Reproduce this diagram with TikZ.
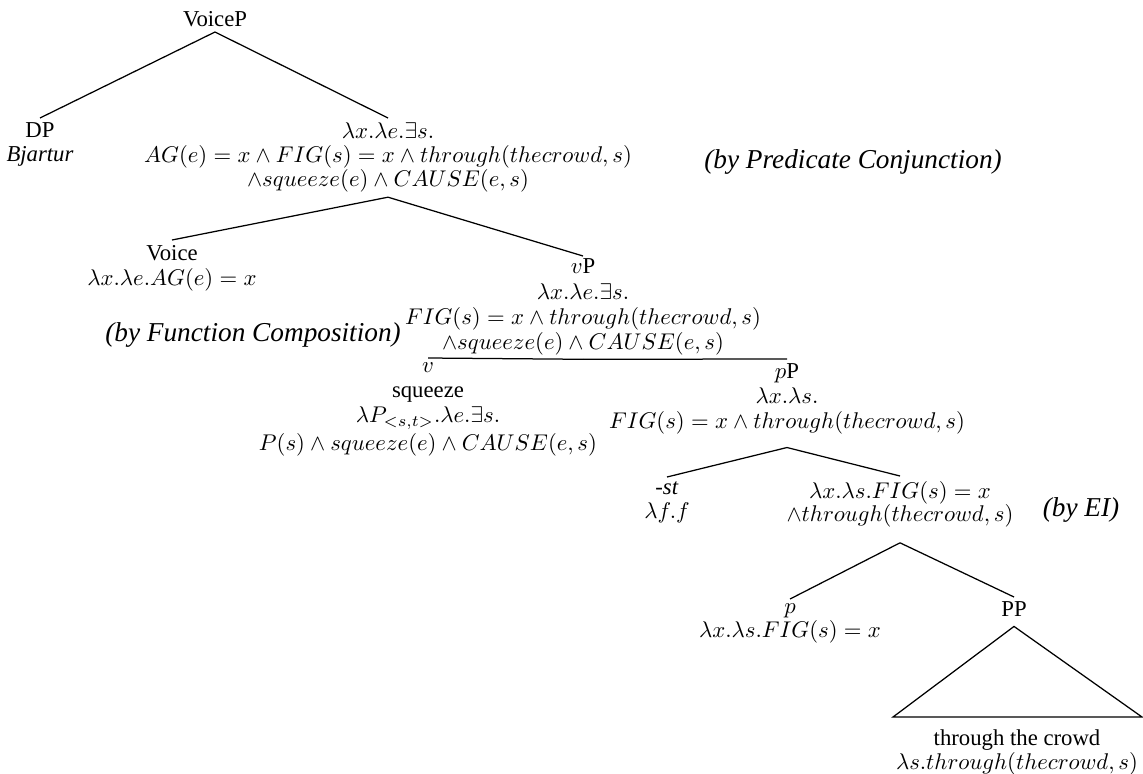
\documentclass[tikz,border=0pt]{standalone}
\usepackage[no-math]{fontspec}
\setmainfont{Liberation Serif}
\begin{document}
\begin{tikzpicture}[x=0.44pt,y=-0.44pt,
  lab/.style={align=center,inner sep=2pt,font=\fontsize{10}{10.5}\selectfont,anchor=north},
  wide/.style={font=\fontsize{10}{11}\selectfont},
  note/.style={inner sep=0pt,font=\fontsize{12}{14}\selectfont\itshape},
  branch/.style={line width=0.55pt}]
\useasboundingbox (0,0) rectangle (1143,773);

% tree nodes
\node[lab,anchor=south] (voiceP) at (215,32) {VoiceP};
\node[lab] (dp) at (40,118) {DP\\ \textit{Bjartur}};
\node[lab] (vbar) at (388,118) {$\lambda x.\lambda e.\exists s.$\\
  $AG(e)=x\wedge FIG(s)=x\wedge through(thecrowd,s)$\\
  $\wedge squeeze(e)\wedge CAUSE(e,s)$};
\node[lab,wide] (voice) at (172,240) {Voice\\ $\lambda x.\lambda e.AG(e)=x$};
\node[lab,wide,inner ysep=1pt,text depth=3pt] (vP) at (583,256) {$v$P\\[0.5pt] $\lambda x.\lambda e.\exists s.$\\
  $FIG(s)=x\wedge through(thecrowd,s)$\\
  $\wedge squeeze(e)\wedge CAUSE(e,s)$};
\node[lab,wide] (v) at (428,358) {$v$\\ squeeze\\ $\lambda P_{<s,t>}.\lambda e.\exists s.$\\[1pt]
  $P(s)\wedge squeeze(e)\wedge CAUSE(e,s)$};
\node[lab,wide,text depth=6pt] (pP) at (787,359) {$p$P\\ $\lambda x.\lambda s.$\\
  $FIG(s)=x\wedge through(thecrowd,s)$};
\node[lab] (st) at (667,477) {\textit{-st}\\ $\lambda f.f$};
\node[lab,text depth=7pt] (pbar) at (900,476) {$\lambda x.\lambda s.FIG(s)=x$\\
  $\wedge through(thecrowd,s)$};
\node[lab] (p) at (790,599) {$p$\\ $\lambda x.\lambda s.FIG(s)=x$};
\node[lab,text depth=2pt] (PP) at (1014,597) {PP};
\coordinate (triL) at (893,717);
\coordinate (triR) at (1142,717);
\node[lab] (crowd) at (1017,725) {through the crowd\\ $\lambda s.through(thecrowd,s)$};

% composition notes
\node[note] (pc) at (853,162) {(by Predicate Conjunction)};
\node[note] (fc) at (253,335) {(by Function Composition)};
\node[note] (ei) at (1081,510) {(by EI)};

% branches
\draw[branch] (voiceP.south) -- (dp.north);
\draw[branch] (voiceP.south) -- (vbar.north);
\draw[branch] (vbar.south) -- (voice.north);
\draw[branch] (vbar.south) -- (vP.north);
\draw[branch] (vP.south) -- (v.north);
\draw[branch] (vP.south) -- (pP.north);
\draw[branch] (pP.south) -- (st.north);
\draw[branch] (pP.south) -- (pbar.north);
\draw[branch] (pbar.south) -- (p.north);
\draw[branch] (pbar.south) -- (PP.north);
\draw[branch] (PP.south) -- (triL) -- (triR) -- cycle;
\end{tikzpicture}
\end{document}
